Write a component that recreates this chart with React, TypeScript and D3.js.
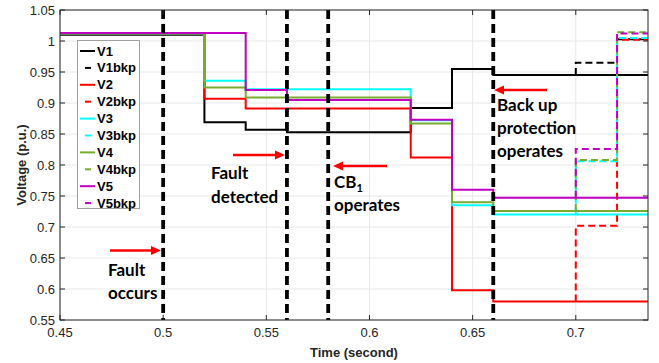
import { useEffect, useRef } from 'react'
import * as d3 from 'd3'

// step breakpoints (seconds) and bus voltages (p.u.)
const TIMES = [0.45, 0.52, 0.54, 0.56, 0.62, 0.64, 0.66, 0.735]
const V1 = [1.010, 0.869, 0.857, 0.853, 0.892, 0.955, 0.945, 0.945]
const V2 = [1.012, 0.907, 0.891, 0.891, 0.812, 0.598, 0.580, 0.580]
const V3 = [1.012, 0.936, 0.922, 0.922, 0.872, 0.735, 0.720, 0.720]
const V4 = [1.012, 0.925, 0.909, 0.909, 0.867, 0.740, 0.726, 0.726]
const V5 = [1.013, 1.013, 0.921, 0.905, 0.873, 0.760, 0.747, 0.747]

// backup-protection case, only differs after 0.7 s
const BKP_TIMES = [0.70, 0.70, 0.72, 0.735]
const V1BKP = [0.945, 0.965, 1.003, 1.003]
const V2BKP = [0.580, 0.702, 1.002, 1.002]
const V3BKP = [0.720, 0.806, 1.005, 1.005]
const V4BKP = [0.726, 0.808, 1.014, 1.014]
const V5BKP = [0.747, 0.826, 1.012, 1.012]

const SERIES = [
  { name: 'V1', t: TIMES, v: V1, color: '#000000', dashed: false },
  { name: 'V1bkp', t: BKP_TIMES, v: V1BKP, color: '#000000', dashed: true },
  { name: 'V2', t: TIMES, v: V2, color: '#ff0000', dashed: false },
  { name: 'V2bkp', t: BKP_TIMES, v: V2BKP, color: '#ff0000', dashed: true },
  { name: 'V3', t: TIMES, v: V3, color: '#00ffff', dashed: false },
  { name: 'V3bkp', t: BKP_TIMES, v: V3BKP, color: '#00ffff', dashed: true },
  { name: 'V4', t: TIMES, v: V4, color: '#77ac30', dashed: false },
  { name: 'V4bkp', t: BKP_TIMES, v: V4BKP, color: '#77ac30', dashed: true },
  { name: 'V5', t: TIMES, v: V5, color: '#c000c0', dashed: false },
  { name: 'V5bkp', t: BKP_TIMES, v: V5BKP, color: '#c000c0', dashed: true }
]

const EVENT_TIMES = [0.5, 0.56, 0.58, 0.66]
const X_TICKS = [0.45, 0.5, 0.55, 0.6, 0.65, 0.7]
const Y_TICKS = [0.55, 0.6, 0.65, 0.7, 0.75, 0.8, 0.85, 0.9, 0.95, 1, 1.05]

const W = 659
const H = 363
const M = { left: 60, top: 10, right: 11, bottom: 43 }

export default function App() {
  const ref = useRef<SVGSVGElement | null>(null)

  useEffect(() => {
    if (!ref.current) return
    const svg = d3.select(ref.current)
    svg.selectAll('*').remove()

    const x = d3.scaleLinear().domain([0.45, 0.735]).range([M.left, W - M.right])
    const y = d3.scaleLinear().domain([0.55, 1.05]).range([H - M.bottom, M.top])
    const [x0, x1] = x.range()
    const [y0, y1] = y.range()

    svg.append('rect').attr('x', 0).attr('y', 0).attr('width', W).attr('height', H).attr('fill', '#fff')

    // grid
    const grid = svg.append('g')
    X_TICKS.forEach((t) => {
      grid.append('line').attr('x1', x(t)).attr('x2', x(t)).attr('y1', y1).attr('y2', y0)
        .attr('stroke', '#e8e8e8').attr('stroke-width', 1)
    })
    Y_TICKS.forEach((t) => {
      grid.append('line').attr('x1', x0).attr('x2', x1).attr('y1', y(t)).attr('y2', y(t))
        .attr('stroke', '#e8e8e8').attr('stroke-width', 1)
    })

    const clip = svg.append('defs').append('clipPath').attr('id', 'plotclip')
    clip.append('rect').attr('x', x0).attr('y', y1).attr('width', x1 - x0).attr('height', y0 - y1)

    const plot = svg.append('g').attr('clip-path', 'url(#plotclip)')
    const line = d3.line<[number, number]>()
      .x((d) => x(d[0]))
      .y((d) => y(d[1]))
      .curve(d3.curveStepAfter)

    SERIES.forEach((s) => {
      const pts = s.t.map((t, i) => [t, s.v[i]] as [number, number])
      plot.append('path')
        .attr('d', line(pts) as string)
        .attr('fill', 'none')
        .attr('stroke', s.color)
        .attr('stroke-width', 2)
        .attr('stroke-dasharray', s.dashed ? '7,4' : null)
    })

    // event markers
    EVENT_TIMES.forEach((t) => {
      plot.append('line')
        .attr('x1', x(t)).attr('x2', x(t)).attr('y1', y1).attr('y2', y0)
        .attr('stroke', '#000').attr('stroke-width', 3.8)
        .attr('stroke-dasharray', '9,5')
    })

    // axes box with inward ticks
    const axisG = svg.append('g').attr('font-family', 'Liberation Sans, Arial, sans-serif')
    axisG.append('rect').attr('x', x0).attr('y', y1).attr('width', x1 - x0).attr('height', y0 - y1)
      .attr('fill', 'none').attr('stroke', '#262626').attr('stroke-width', 1)
    X_TICKS.forEach((t) => {
      axisG.append('line').attr('x1', x(t)).attr('x2', x(t)).attr('y1', y0).attr('y2', y0 - 5).attr('stroke', '#262626')
      axisG.append('line').attr('x1', x(t)).attr('x2', x(t)).attr('y1', y1).attr('y2', y1 + 5).attr('stroke', '#262626')
      axisG.append('text').attr('x', x(t)).attr('y', y0 + 17).attr('text-anchor', 'middle')
        .attr('font-size', 13).attr('fill', '#262626').text(d3.format('')(t))
    })
    Y_TICKS.forEach((t) => {
      axisG.append('line').attr('x1', x0).attr('x2', x0 + 5).attr('y1', y(t)).attr('y2', y(t)).attr('stroke', '#262626')
      axisG.append('line').attr('x1', x1).attr('x2', x1 - 5).attr('y1', y(t)).attr('y2', y(t)).attr('stroke', '#262626')
      axisG.append('text').attr('x', x0 - 5).attr('y', y(t)).attr('text-anchor', 'end')
        .attr('dominant-baseline', 'central').attr('font-size', 13).attr('fill', '#262626')
        .text(d3.format('')(t))
    })
    axisG.append('text').attr('x', (x0 + x1) / 2).attr('y', H - 6).attr('text-anchor', 'middle')
      .attr('font-size', 13).attr('font-weight', 'bold').attr('fill', '#262626').text('Time (second)')
    axisG.append('text')
      .attr('transform', `translate(${26},${(y0 + y1) / 2}) rotate(-90)`)
      .attr('text-anchor', 'middle').attr('font-size', 13).attr('font-weight', 'bold')
      .attr('fill', '#262626').text('Voltage (p.u.)')

    // legend
    const lg = svg.append('g').attr('font-family', 'Liberation Sans, Arial, sans-serif')
    lg.append('rect').attr('x', 77.5).attr('y', 40.5).attr('width', 62).attr('height', 168)
      .attr('fill', '#fff').attr('stroke', '#a0a0a0').attr('stroke-width', 1)
    SERIES.forEach((s, i) => {
      const ly = 51 + i * 16.9
      lg.append('line')
        .attr('x1', s.dashed ? 85 : 80).attr('x2', s.dashed ? 91 : 95)
        .attr('y1', ly).attr('y2', ly)
        .attr('stroke', s.color).attr('stroke-width', 2)
      lg.append('text').attr('x', 97).attr('y', ly).attr('dominant-baseline', 'central')
        .attr('font-size', 13).attr('font-weight', 'bold').attr('fill', '#000').text(s.name)
    })

    // annotations
    const ann = svg.append('g').attr('font-family', 'Lato, sans-serif').attr('font-weight', 'bold')
      .attr('font-size', 17).attr('fill', '#000')
    const arrow = (xa: number, xb: number, yv: number) => {
      const dir = Math.sign(xb - xa)
      ann.append('line').attr('x1', xa).attr('x2', xb - dir * 8).attr('y1', yv).attr('y2', yv)
        .attr('stroke', '#ff0000').attr('stroke-width', 2.5)
      ann.append('path')
        .attr('d', `M${xb},${yv} L${xb - dir * 10},${yv - 4.5} L${xb - dir * 10},${yv + 4.5} Z`)
        .attr('fill', '#ff0000')
    }
    arrow(110, 161, 250.5)
    ann.append('text').attr('x', 108).attr('y', 276).text('Fault')
    ann.append('text').attr('x', 108).attr('y', 299).text('occurs')

    arrow(233, 285, 155)
    ann.append('text').attr('x', 211).attr('y', 179).text('Fault')
    ann.append('text').attr('x', 211).attr('y', 203).text('detected')

    arrow(387, 333, 166)
    const cb = ann.append('text').attr('x', 334).attr('y', 188)
    cb.append('tspan').text('CB')
    cb.append('tspan').attr('font-size', 11).attr('dy', 4).text('1')
    ann.append('text').attr('x', 334).attr('y', 211).text('operates')

    arrow(547, 494, 90)
    ann.append('text').attr('x', 497).attr('y', 111).text('Back up')
    ann.append('text').attr('x', 497).attr('y', 134).text('protection')
    ann.append('text').attr('x', 497).attr('y', 157).text('operates')
  }, [])

  return (
    <svg
      ref={ref}
      width={W}
      height={H}
      style={{ position: 'absolute', left: 0, top: 0, display: 'block' }}
    />
  )
}
